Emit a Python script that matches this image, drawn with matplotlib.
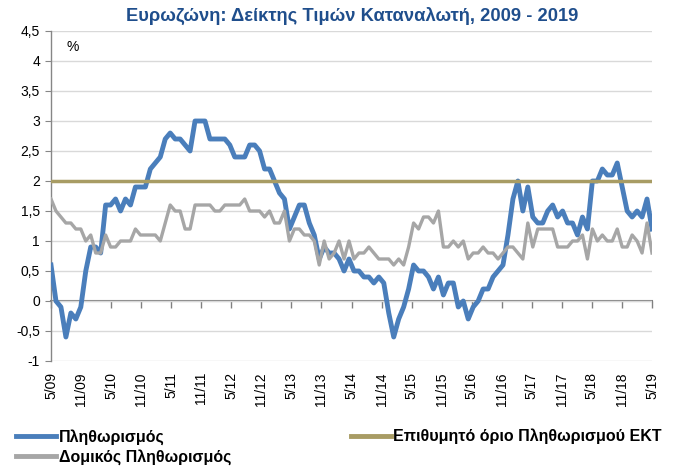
import matplotlib
matplotlib.use('Agg')
import matplotlib.pyplot as plt
from matplotlib.lines import Line2D
import numpy as np

plt.rcParams['font.family'] = ['Liberation Sans', 'DejaVu Sans']

title = 'Ευρωζώνη: Δείκτης Τιμών Καταναλωτή, 2009 - 2019'
tick_labels = ['5/09', '11/09', '5/10', '11/10', '5/11', '11/11', '5/12', '11/12',
               '5/13', '11/13', '5/14', '11/14', '5/15', '11/15', '5/16', '11/16',
               '5/17', '11/17', '5/18', '11/18', '5/19']

# Monthly, Apr 2009 .. May 2019
inflation = [0.6, 0.0, -0.1, -0.6, -0.2, -0.3, -0.1, 0.5, 0.9,
             0.9, 0.8, 1.6, 1.6, 1.7, 1.5, 1.7, 1.6, 1.9, 1.9, 1.9, 2.2,
             2.3, 2.4, 2.7, 2.8, 2.7, 2.7, 2.6, 2.5, 3.0, 3.0, 3.0, 2.7,
             2.7, 2.7, 2.7, 2.6, 2.4, 2.4, 2.4, 2.6, 2.6, 2.5, 2.2, 2.2,
             2.0, 1.8, 1.7, 1.2, 1.4, 1.6, 1.6, 1.3, 1.1, 0.7, 0.9, 0.8,
             0.8, 0.7, 0.5, 0.7, 0.5, 0.5, 0.4, 0.4, 0.3, 0.4, 0.3, -0.2,
             -0.6, -0.3, -0.1, 0.2, 0.6, 0.5, 0.5, 0.4, 0.2, 0.4, 0.1, 0.3,
             0.3, -0.1, 0.0, -0.3, -0.1, 0.0, 0.2, 0.2, 0.4, 0.5, 0.6, 1.1,
             1.7, 2.0, 1.5, 1.9, 1.4, 1.3, 1.3, 1.5, 1.6, 1.4, 1.5, 1.3,
             1.3, 1.1, 1.4, 1.2, 2.0, 2.0, 2.2, 2.1, 2.1, 2.3, 1.9, 1.5,
             1.4, 1.5, 1.4, 1.7, 1.2]

core = [1.7, 1.5, 1.4, 1.3, 1.3, 1.2, 1.2, 1.0, 1.1,
        0.8, 0.8, 1.1, 0.9, 0.9, 1.0, 1.0, 1.0, 1.2, 1.1, 1.1, 1.1,
        1.1, 1.0, 1.3, 1.6, 1.5, 1.5, 1.2, 1.2, 1.6, 1.6, 1.6, 1.6,
        1.5, 1.5, 1.6, 1.6, 1.6, 1.6, 1.7, 1.5, 1.5, 1.5, 1.4, 1.5,
        1.3, 1.3, 1.5, 1.0, 1.2, 1.2, 1.1, 1.1, 1.0, 0.6, 1.0, 0.7,
        0.8, 1.0, 0.7, 1.0, 0.7, 0.8, 0.8, 0.9, 0.8, 0.7, 0.7, 0.7,
        0.6, 0.7, 0.6, 0.9, 1.3, 1.2, 1.4, 1.4, 1.3, 1.5, 0.9, 0.9,
        1.0, 0.9, 1.0, 0.7, 0.8, 0.8, 0.9, 0.8, 0.8, 0.7, 0.8, 0.9,
        0.9, 0.8, 0.7, 1.3, 0.9, 1.2, 1.2, 1.2, 1.2, 0.9, 0.9, 0.9,
        1.0, 1.0, 1.1, 0.7, 1.2, 1.0, 1.1, 1.0, 1.0, 1.2, 0.9, 0.9,
        1.1, 1.0, 0.8, 1.3, 0.8]

ecb_target = 2.0

series_names = ['Πληθωρισμός', 'Δομικός Πληθωρισμός', 'Επιθυμητό όριο Πληθωρισμού ΕΚΤ']
c_infl = '#4A7EBB'
c_core = '#A6A6A6'
c_ecb = '#A89C64'

W, H = 674, 466
fig = plt.figure(figsize=(W / 100, H / 100), dpi=100)
ax = fig.add_axes([51 / W, 1 - 361 / H, 601 / W, 330 / H])

n = len(inflation)
x = np.arange(n)
ymin, ymax = -1.0, 4.5
ax.set_xlim(0, n - 1)
ax.set_ylim(ymin, ymax)

yt = np.arange(ymin, ymax + 0.01, 0.5)
ax.set_yticks(yt)
ax.set_yticklabels([('%g' % v).replace('.', ',') for v in yt], fontsize=10)
ax.grid(axis='y', color='#D9D9D9', lw=1)
ax.set_axisbelow(True)

ax.plot(x, inflation, color=c_infl, lw=3.5, zorder=3, solid_joinstyle='round')
ax.axhline(ecb_target, color=c_ecb, lw=2.5, zorder=4)
ax.plot(x, core, color=c_core, lw=2.4, zorder=5, solid_joinstyle='round')

tick_pos = np.linspace(0, n - 1, len(tick_labels))
ax.set_xticks(tick_pos)
ax.set_xticklabels(tick_labels, rotation=90, fontsize=10)
ax.tick_params(axis='x', length=0, pad=8)
ax.tick_params(axis='y', direction='out', length=4, color='#868686', pad=4)

for s in ['top', 'right', 'bottom']:
    ax.spines[s].set_visible(False)
ax.spines['left'].set_color('#868686')
ax.spines['left'].set_linewidth(1.0)

# axis line at zero with tick marks
sec = ax.secondary_xaxis((0 - ymin) / (ymax - ymin))
sec.set_xticks(tick_pos)
sec.tick_params(axis='x', direction='out', length=5, color='#808080', width=1,
                labelbottom=False, labeltop=False)
for s in sec.spines.values():
    s.set_color('#808080')
    s.set_linewidth(1.5)

ax.text(0.026, 0.972, '%', transform=ax.transAxes, fontsize=10, va='top', ha='left')

fig.text(0.522, 0.966, title, ha='center', va='center', fontsize=13.2,
         fontweight='bold', color='#1F4E8C')

handles = [Line2D([], [], color=c_infl, lw=3.5),
           Line2D([], [], color=c_core, lw=3.5),
           Line2D([], [], color=c_ecb, lw=3.5)]
fig.legend(handles, series_names, loc='upper left', bbox_to_anchor=(0.024, 0.080),
           ncol=2, frameon=False, prop={'weight': 'bold', 'size': 11.5},
           handlelength=2.5, handletextpad=0.15, columnspacing=7.5,
           labelspacing=0.3, borderaxespad=0, borderpad=0)

fig.savefig('out.png', dpi=100)
